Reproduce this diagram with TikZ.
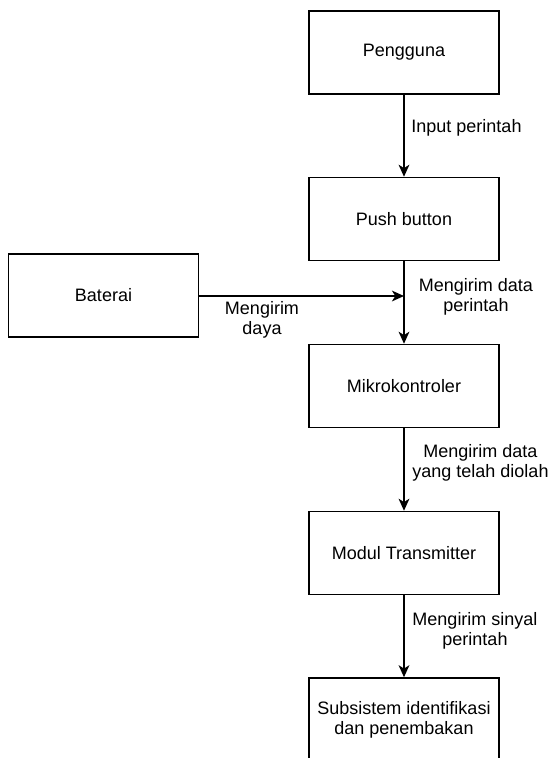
\documentclass[tikz,border=0pt]{standalone}
\usepackage{fontspec}
\setmainfont{Liberation Sans}
\usetikzlibrary{arrows.meta}
\begin{document}
\begin{tikzpicture}[x=0.75pt,y=-0.75pt,
  blockbox/.style={draw=black,line width=1.1pt,minimum width=142.5pt,minimum height=62.25pt,align=center,inner sep=2pt,font=\fontsize{13.5pt}{15pt}\selectfont},
  lbl/.style={align=center,inner sep=0pt,font=\fontsize{13.5pt}{15pt}\selectfont},
  conn/.style={line width=1.5pt,-{Stealth[length=9pt,width=8pt,inset=2.5pt]}}]
\useasboundingbox (0,0) rectangle (555,758);
\begin{scope}
\clip (0,0) rectangle (555,758);
\node[blockbox] (peng) at (404,52.5) {Pengguna};
\node[blockbox] (push) at (404,219) {Push button};
\node[blockbox] (bat) at (103.5,295.5) {Baterai};
\node[blockbox] (mikro) at (404,386) {Mikrokontroler};
\node[blockbox] (modul) at (404,553) {Modul Transmitter};
\node[blockbox] (sub) at (404,719.5) {Subsistem identifikasi\\dan penembakan};
\coordinate (junc) at (404,296);
\draw[conn] (peng.south) -- (push.north);
\draw[conn] (push.south) -- (mikro.north);
\draw[conn] (bat.east |- junc) -- (junc);
\draw[conn] (mikro.south) -- (modul.north);
\draw[conn] (modul.south) -- (sub.north);
\node[lbl] (l1) at (466.5,128) {Input perintah};
\node[lbl] (l2) at (476,297) {Mengirim data\\perintah};
\node[lbl] (l3) at (262,320) {Mengirim\\daya};
\node[lbl] (l4) at (480.5,463) {Mengirim data\\yang telah diolah};
\node[lbl] (l5) at (475,631) {Mengirim sinyal\\perintah};
\end{scope}
\end{tikzpicture}
\end{document}
